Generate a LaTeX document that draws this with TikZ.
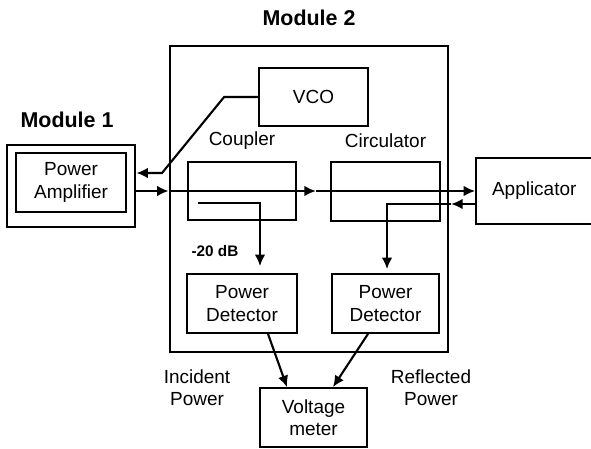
\documentclass[tikz,border=0pt]{standalone}
\usepackage{fontspec}
\setmainfont{Liberation Sans}
\usepackage{tikz}
\usetikzlibrary{calc,arrows.meta,positioning}

\begin{document}
\begin{tikzpicture}[x=0.02cm,y=-0.02cm,
    blk/.style={draw,line width=1pt,inner sep=0pt,align=center,
      font=\fontsize{10.8}{12.6}\selectfont},
    frame/.style={draw,line width=1.6pt,inner sep=0pt},
    title/.style={font=\fontsize{12.2}{14}\selectfont\bfseries},
    lbl/.style={align=center,font=\fontsize{10.8}{12.6}\selectfont},
    conn/.style={line width=1.2pt,-{Latex[length=6.5pt,width=6pt]}}]
    \useasboundingbox (0,0) rectangle (591,449);

    % frames of the two modules
    \node[frame,minimum width=278*0.02cm,minimum height=306*0.02cm] (mtwo) at (309,199) {};
    \node[frame,minimum width=128*0.02cm,minimum height=82*0.02cm] (mone) at (71,186) {};
    \node[title] (mtwolbl) at (309,18) {Module 2};
    \node[title] (monelbl) at (67,120) {Module 1};

    % blocks
    \path
    (71,182.5) node[blk,minimum width=110*0.02cm,minimum height=59*0.02cm] (pa) {Power\\Amplifier}
    (313.5,97) node[blk,minimum width=109*0.02cm,minimum height=58*0.02cm] (vco) {VCO}
    (242,191) node[blk,minimum width=108*0.02cm,minimum height=58*0.02cm] (coupler) {}
    (385.5,191.5) node[blk,minimum width=109*0.02cm,minimum height=59*0.02cm] (circ) {}
    (536,191) node[blk,minimum width=120*0.02cm,minimum height=66*0.02cm,text width=116*0.02cm] (app) {\hspace*{-2pt}Applicator}
    (242,303.5) node[blk,minimum width=110*0.02cm,minimum height=59*0.02cm] (pdinc) {Power\\Detector}
    (385.5,303.5) node[blk,minimum width=107*0.02cm,minimum height=59*0.02cm] (pdref) {Power\\Detector}
    (313.5,417.5) node[blk,minimum width=107*0.02cm,minimum height=59*0.02cm] (vm) {Voltage\\meter};

    % labels
    \node[lbl,above=3pt of coupler] (couplerlbl) {Coupler};
    \node[lbl,above=4pt of circ] (circlbl) {Circulator};
    \node[font=\fontsize{8.7}{10}\selectfont\bfseries] (dblbl) at (215,251) {-20 dB};
    \node[lbl] (inclbl) at (197,388) {Incident\\Power};
    \node[lbl] (reflbl) at (431,388) {Reflected\\Power};

    % forward path
    \draw[conn] (mone.east |- coupler.center) -- (mtwo.west |- coupler.center);
    \draw[conn] (mtwo.west |- coupler.center) -- ($(coupler.east)+(19,0)$);
    \draw[conn] ($(coupler.east)+(19,0)$) -- (app.west |- coupler.center);

    % VCO drive
    \coordinate (fbk) at (162,173);
    \draw[conn] (vco.west) -- ++(-34,0) -- (fbk) -- (fbk -| mone.east);

    % coupled port
    \coordinate (cin) at (198,203);
    \draw[conn] (cin) -| ($(pdinc.north)+(18,-7)$);

    % reflected path
    \coordinate (rin) at ($(app.west)+(0,13)$);
    \coordinate (rtip) at ($(rin)+(-24,0)$);
    \draw[conn] (rin) -- (rtip);
    \draw[conn] (rtip) -| ($(pdref.north)+(1.5,-4)$);

    % detectors to meter
    \draw[conn] ($(pdinc.south)+(26,0)$) -- ($(vm.north)+(-26.5,0)$);
    \draw[conn] ($(pdref.south)+(-17.5,0)$) -- ($(vm.north)+(19.5,0)$);
\end{tikzpicture}
\end{document}
